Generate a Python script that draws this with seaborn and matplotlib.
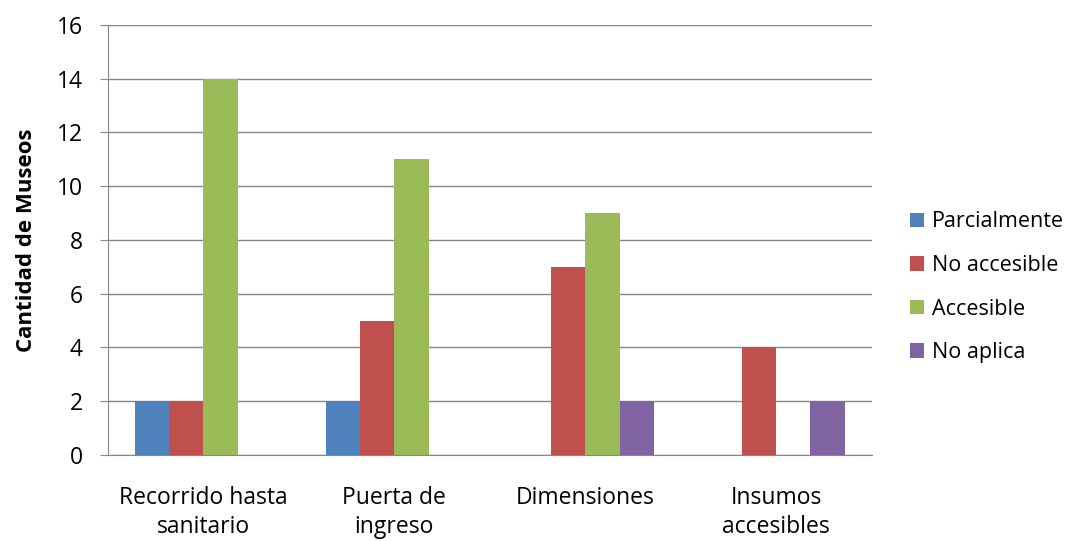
import matplotlib
matplotlib.use("Agg")
import matplotlib.pyplot as plt
import seaborn as sns
import pandas as pd

categories = ["Recorrido hasta\nsanitario", "Puerta de\ningreso", "Dimensiones", "Insumos\naccesibles"]
series = ["Parcialmente", "No accesible", "Accesible", "No aplica"]
parcialmente = [2, 2, 0, 0]
no_accesible = [2, 5, 7, 4]
accesible = [14, 11, 9, 0]
no_aplica = [0, 0, 2, 2]
colors = ["#4F81BD", "#C0504D", "#9BBB59", "#8064A2"]

rows = []
for name, vals in zip(series, [parcialmente, no_accesible, accesible, no_aplica]):
    for cat, v in zip(categories, vals):
        rows.append({"categoria": cat, "serie": name, "valor": v})
df = pd.DataFrame(rows)

sns.set_style("white")
plt.rcParams["font.family"] = ["Open Sans", "DejaVu Sans"]
plt.rcParams["text.color"] = "black"
plt.rcParams["xtick.color"] = "black"
plt.rcParams["ytick.color"] = "black"
plt.rcParams["axes.labelcolor"] = "black"

fig = plt.figure(figsize=(10.8, 5.41), dpi=100)
ax = fig.add_axes([0.1, 0.159, 0.707, 0.795])

sns.barplot(data=df, x="categoria", y="valor", hue="serie", order=categories,
            hue_order=series, palette=colors, width=0.72, saturation=1,
            linewidth=0, ax=ax)

ax.set_ylim(0, 16)
ax.set_yticks(range(0, 17, 2))
ax.set_xlim(-0.5, 3.5)
ax.yaxis.grid(True, color="#868686", linewidth=1)
ax.set_axisbelow(True)
for s in ["top", "right"]:
    ax.spines[s].set_visible(False)
for s in ["left", "bottom"]:
    ax.spines[s].set_color("#868686")
ax.tick_params(axis="y", length=6, color="#868686", labelsize=16.5, pad=12, left=True)
ax.tick_params(axis="x", length=0, labelsize=16.5, pad=22)
for lbl in ax.get_xticklabels():
    lbl.set_linespacing(1.3)
ax.set_xlabel("")
ax.set_ylabel("Cantidad de Museos", fontsize=16, fontweight="bold", labelpad=14)

ax.legend(loc="center left", bbox_to_anchor=(1.025, 0.39), frameon=False,
          fontsize=15.5, handlelength=0.65, handleheight=0.65, labelspacing=1.05,
          handletextpad=0.35)

fig.savefig("out.png", dpi=100)
